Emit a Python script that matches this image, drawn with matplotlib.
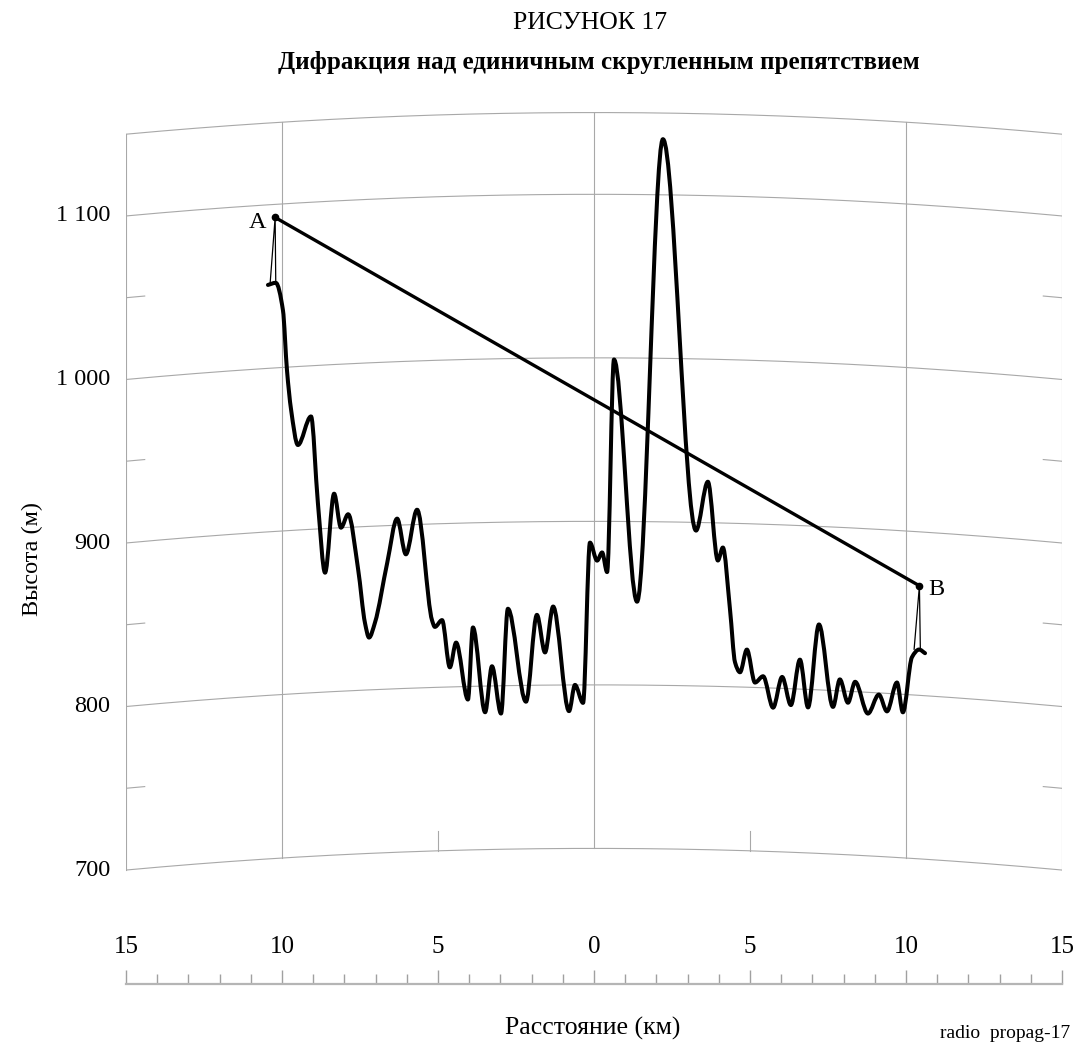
import numpy as np
import matplotlib.pyplot as plt
from matplotlib.path import Path
from matplotlib.patches import PathPatch
from matplotlib.ticker import MultipleLocator, FuncFormatter

plt.rcParams['font.family'] = ['Liberation Serif', 'DejaVu Serif']

# профиль трассы: расстояние от середины трассы (км) и высота местности (м)
terrain_km = [-10.45, -10.2, -9.97, -9.84, -9.71, -9.49, -9.07, -8.85, -8.62,
              -8.33, -8.11, -7.88, -7.56, -7.34, -7.21, -7.02, -6.63, -6.31,
              -6.03, -5.67, -5.19, -5.10, -4.87, -4.62, -4.42, -4.04, -3.88,
              -3.49, -3.27, -2.98, -2.76, -2.18, -1.83, -1.57, -1.31, -0.80,
              -0.61, -0.35, -0.13, 0.10, 0.26, 0.42, 0.64, 1.38, 2.21, 3.27,
              3.65, 3.97, 4.13, 4.36, 4.52, 4.68, 4.90, 5.16, 5.42, 5.74, 6.03,
              6.31, 6.60, 6.86, 7.21, 7.66, 7.88, 8.14, 8.37, 8.78, 9.13, 9.39,
              9.71, 9.90, 10.19, 10.42, 10.61]
terrain_m = [1051, 1052, 1035, 998, 974, 952, 969, 916, 873,
             921, 900, 908, 874, 841, 832, 841, 877, 904,
             882, 909, 841, 837, 841, 812, 827, 792, 836,
             784, 812, 783, 847, 790, 843, 820, 848, 784,
             800, 789, 887, 876, 881, 869, 999, 851, 1134, 895,
             925, 877, 885, 847, 815, 809, 823, 803, 807, 788, 807,
             790, 818, 789, 840, 790, 807, 793, 806, 787, 799, 789,
             807, 789, 823, 828, 826]

# станции A и B: вершина мачты и основание
station_names = ['A', 'B']
station_km = [-10.22, 10.43]
station_top_m = [1092, 867]
base_left_km = [-10.38, 10.26]
base_right_km = [-10.20, 10.46]
base_m = [1052, 828]

height_ticks = [700, 800, 900, 1000, 1100]
height_labels = ['700', '800', '900', '1 000', '1 100']
half_ticks = [750, 850, 950, 1050]
top_line = 1150
full_verticals = [-15, -10, 0, 10, 15]
short_verticals = [-5, 5]

HALF_PATH = 15.0   # км
AE = 8500.0        # эффективный радиус Земли, км


def bulge(x):
    x = np.asarray(x, dtype=float)
    return (HALF_PATH + x) * (HALF_PATH - x) / (2 * AE) * 1000.0


def smooth_path(x, y):
    # кривая Безье через точки, касательные как у монотонного сплайна
    x = np.asarray(x, float)
    y = np.asarray(y, float)
    h = np.diff(x)
    d = np.diff(y) / h
    m = np.zeros_like(y)
    m[0], m[-1] = d[0], d[-1]
    for i in range(1, len(x) - 1):
        if d[i - 1] * d[i] > 0:
            w1 = 2 * h[i] + h[i - 1]
            w2 = h[i] + 2 * h[i - 1]
            m[i] = (w1 + w2) / (w1 / d[i - 1] + w2 / d[i])
    verts = [(x[0], y[0])]
    codes = [Path.MOVETO]
    for i in range(len(x) - 1):
        verts += [(x[i] + h[i] / 3, y[i] + m[i] * h[i] / 3),
                  (x[i + 1] - h[i] / 3, y[i + 1] - m[i + 1] * h[i] / 3),
                  (x[i + 1], y[i + 1])]
        codes += [Path.CURVE4] * 3
    return Path(verts, codes)


W, H = 1076, 1046
fig = plt.figure(figsize=(W / 100, H / 100), dpi=100)

ax = fig.add_axes([126 / W, 1 - 886.4 / H, 936 / W, (886.4 - 101.5) / H])
ax.set_xlim(-15, 15)
ax.set_ylim(690, 1170)
ax.axis('off')

grid_kw = dict(color='#a8a8a8', lw=0.8, zorder=1)
xs = np.linspace(-15, 15, 300)
for h in height_ticks + [top_line]:
    ax.plot(xs, h + bulge(xs), **grid_kw)
for h in half_ticks:
    for x0, x1 in [(-15, -14.4), (14.4, 15)]:
        xx = np.linspace(x0, x1, 5)
        ax.plot(xx, h + bulge(xx), **grid_kw)
for x in full_verticals:
    ax.plot([x, x], [700 + bulge(x), top_line + bulge(x)], **grid_kw)
for x in short_verticals:
    ax.plot([x, x], [700 + bulge(x), 712 + bulge(x)], **grid_kw)

for h, lab in zip(height_ticks, height_labels):
    ax.text(-15.5, h, lab, ha='right', va='center', fontsize=17.5)
ax.text(-18.0, 890, 'Высота (м)', rotation=90, ha='center', va='center',
        fontsize=17.5)

# рельеф
tx = np.array(terrain_km)
ty = np.array(terrain_m) + bulge(tx)
ax.add_patch(PathPatch(smooth_path(tx, ty), facecolor='none',
                       edgecolor='black', lw=2.9, joinstyle='round',
                       capstyle='round', zorder=3))

# мачты и прямая A-B
for i in range(2):
    xs_m = [base_left_km[i], station_km[i], base_right_km[i]]
    ys_m = [base_m[i] + bulge(base_left_km[i]),
            station_top_m[i] + bulge(station_km[i]),
            base_m[i] + bulge(base_right_km[i])]
    ax.plot(xs_m, ys_m, color='black', lw=0.9, zorder=3)
sx = np.array(station_km)
sy = np.array(station_top_m) + bulge(sx)
ax.plot(sx, sy, color='black', lw=2.4, marker='o', markersize=4.5, zorder=4)
ax.text(sx[0] - 0.3, sy[0] - 3, station_names[0], ha='right', va='center',
        fontsize=17.5)
ax.text(sx[1] + 0.3, sy[1] - 2, station_names[1], ha='left', va='center',
        fontsize=17.5)

# шкала расстояний
ax2 = fig.add_axes([126 / W, 1 - 984 / H, 936 / W, 22 / H])
ax2.set_xlim(-15, 15)
ax2.set_yticks([])
ax2.patch.set_alpha(0)
for s in ['left', 'right', 'top']:
    ax2.spines[s].set_visible(False)
ax2.spines['bottom'].set_color('#b5b5b5')
ax2.spines['bottom'].set_linewidth(1.6)
ax2.xaxis.set_major_locator(MultipleLocator(5))
ax2.xaxis.set_minor_locator(MultipleLocator(1))
ax2.xaxis.set_major_formatter(FuncFormatter(lambda v, p: f'{abs(v):.0f}'))
ax2.tick_params(which='both', direction='in', color='#a0a0a0', width=1,
                bottom=True, top=False, labelbottom=False, labeltop=True,
                labelsize=18, pad=3)
ax2.tick_params(which='major', length=10)
ax2.tick_params(which='minor', length=7)

fig.text(590 / W, 1 - 23 / H, 'РИСУНОК 17', ha='center', va='center',
         fontsize=18.5)
fig.text(599 / W, 1 - 63 / H, 'Дифракция над единичным скругленным препятствием',
         ha='center', va='center', fontsize=18, fontweight='bold')
fig.text(593 / W, 1 - 1028 / H, 'Расстояние (км)', ha='center', va='center',
         fontsize=18.5)
fig.text(1070 / W, 1 - 1034 / H, 'radio  propag-17', ha='right', va='center',
         fontsize=14)

fig.savefig('out.png', dpi=100)
